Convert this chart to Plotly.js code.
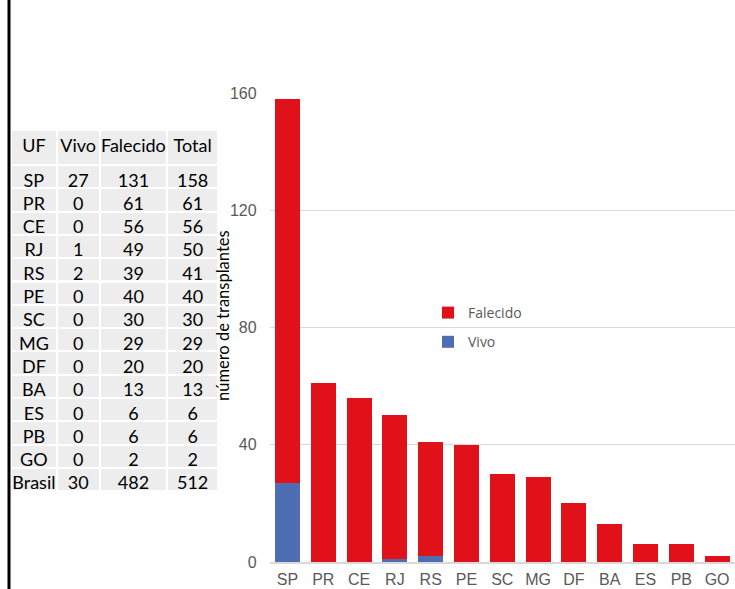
<!DOCTYPE html>
<html><head><meta charset="utf-8">
<script src="https://cdn.plot.ly/plotly-3.0.1.min.js"></script>
<style>html,body{margin:0;padding:0;background:#fff;}#chart{width:735px;height:589px;}</style>
</head><body><div id="chart"></div>
<script>
const ufs = ['SP','PR','CE','RJ','RS','PE','SC','MG','DF','BA','ES','PB','GO'];
const vivo = [27,0,0,1,2,0,0,0,0,0,0,0,0];
const falecido = [131,61,56,49,39,40,30,29,20,13,6,6,2];
const total = [158,61,56,50,41,40,30,29,20,13,6,6,2];
const tableHeader = ['UF','Vivo','Falecido','Total'];
const tableUF = ufs.concat(['Brasil']);
const tableVivo = vivo.concat([30]);
const tableFalecido = falecido.concat([482]);
const tableTotal = total.concat([512]);
const yTicks = [0,40,80,120,160];

const W = 735, H = 589;
const px2x = p => p / W;
const px2y = p => (H - p) / H;

const traces = [
  {type:'bar', x: ufs, y: vivo, name:'Vivo', marker:{color:'#4e6eb4'}, legendgroup:'v', legendrank:2, hoverinfo:'none'},
  {type:'bar', x: ufs, y: falecido, name:'Falecido', marker:{color:'#e1111a'}, legendgroup:'f', legendrank:1, hoverinfo:'none'},
  {type:'table', domain:{x:[px2x(11), px2x(218)], y:[px2y(494), px2y(130)]},
   columnwidth:[46,43,68,51],
   header:{values: tableHeader, height:35, align:'center', fill:{color:'#ededed'}, line:{color:'#ffffff', width:2},
     font:{family:'Lato, Calibri, sans-serif', size:18, color:'#000'}},
   cells:{values:[tableUF, tableVivo, tableFalecido, tableTotal], height:23.3, align:'center', fill:{color:'#ededed'}, line:{color:'#ffffff', width:2},
     font:{family:'Lato, Calibri, sans-serif', size:18, color:'#000'}}
  }
];

const layout = {
  width: W, height: H,
  margin:{l:0, r:0, t:0, b:0, pad:0},
  paper_bgcolor:'#fff', plot_bgcolor:'#fff',
  barmode:'stack', bargap:0.3,
  font:{family:'"Liberation Sans", Arial, sans-serif', size:16, color:'#595959'},
  xaxis:{type:'category', domain:[px2x(269.6), 1], automargin:false, showgrid:false, showline:true, linecolor:'#d9d9d9', linewidth:1.5, ticks:'', ticklabelstandoff:2, tickfont:{size:16, color:'#595959'}, fixedrange:true},
  yaxis:{range:[0,160], domain:[px2y(562), px2y(93)], automargin:false, tickvals:yTicks, showgrid:true, gridcolor:'#d9d9d9', gridwidth:1, zeroline:false, showline:false, ticks:'', ticklabelstandoff:12, tickfont:{size:16, color:'#595959'}, fixedrange:true},
  showlegend:true,
  legend:{x:px2x(428), y:px2y(297), xanchor:'left', yanchor:'top', bgcolor:'rgba(0,0,0,0)', tracegroupgap:8, traceorder:'grouped',
    font:{family:'"Open Sans", Calibri, sans-serif', size:14, color:'#595959'}, itemwidth:30},
  annotations:[{text:'número de transplantes', xref:'paper', yref:'paper', x:px2x(223), y:px2y(316), textangle:-90, showarrow:false,
    xanchor:'center', yanchor:'middle', font:{family:'Lato, Calibri, sans-serif', size:16.5, color:'#000'}}],
  shapes:[{type:'line', xref:'paper', yref:'paper', x0:px2x(9), x1:px2x(9), y0:0, y1:1, line:{color:'#000', width:3}}]
};

Plotly.newPlot('chart', traces, layout, {displayModeBar:false, staticPlot:true});
</script></body></html>
